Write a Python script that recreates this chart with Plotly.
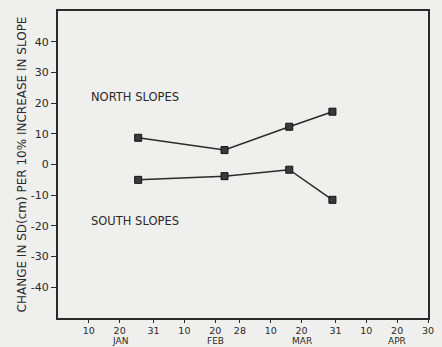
import plotly.graph_objects as go

# Data (day of year; Jan 1 = 1)
sample_days = [26, 54, 75, 89]
north_values = [8.7, 4.7, 12.3, 17.2]
south_values = [-5.0, -3.8, -1.7, -11.5]

x_tick_days = [10, 20, 31, 41, 51, 59, 69, 79, 90, 100, 110, 120]
x_tick_text = ["10", "20", "31", "10", "20", "28", "10", "20", "31", "10", "20", "30"]
month_days = [20, 51, 79, 110]
month_names = ["JAN", "FEB", "MAR", "APR"]
y_ticks = [-40, -30, -20, -10, 0, 10, 20, 30, 40]
y_tick_text = ["-40", "-30", "-20", "-10", "0", "10", "20", "30", "40"]

ink = "#2a2a2a"
bg = "#efefed"
font_family = "DejaVu Sans, Liberation Sans, sans-serif"

fig = go.Figure()
for vals in (north_values, south_values):
    fig.add_trace(go.Scatter(
        x=sample_days, y=vals, mode="lines+markers",
        line=dict(color=ink, width=1.5),
        marker=dict(symbol="square", size=7, color="#3a3a3a",
                    line=dict(color="#111", width=1)),
        showlegend=False, hoverinfo="skip"))

annotations = []
for d, m in zip(month_days, month_names):
    annotations.append(dict(x=d, y=-29 / 307, xref="x", yref="paper",
                            text=m, showarrow=False, yanchor="bottom",
                            borderpad=0,
                            font=dict(size=9, color=ink, family=font_family)))
annotations.append(dict(x=10, y=22, xref="x", yref="y", text="NORTH SLOPES",
                        showarrow=False, xanchor="left", yanchor="middle",
                        font=dict(size=11.5, color=ink, family=font_family)))
annotations.append(dict(x=10, y=-18.5, xref="x", yref="y", text="SOUTH SLOPES",
                        showarrow=False, xanchor="left", yanchor="middle",
                        font=dict(size=11.5, color=ink, family=font_family)))

fig.update_layout(
    width=442, height=347,
    margin=dict(l=58, r=8, t=11, b=29),
    paper_bgcolor=bg, plot_bgcolor=bg,
    font=dict(family=font_family, color=ink, size=11),
    annotations=annotations,
    xaxis=dict(range=[0, 120], tickmode="array", tickvals=x_tick_days,
               ticktext=x_tick_text, ticks="outside", ticklen=3, tickwidth=1.2,
               tickcolor=ink, showline=True, linewidth=2, linecolor=ink,
               mirror=True, showgrid=False, zeroline=False,
               tickfont=dict(size=9.5, color=ink)),
    yaxis=dict(range=[-50, 50], tickmode="array", tickvals=y_ticks,
               ticktext=y_tick_text,
               ticks="outside", ticklen=5, tickwidth=1.2, tickcolor=ink,
               showline=True, linewidth=2, linecolor=ink, mirror=True,
               showgrid=False, zeroline=False,
               tickfont=dict(size=11, color=ink),
               title=dict(text="CHANGE IN SD(cm) PER 10% INCREASE IN SLOPE",
                          font=dict(size=12, color=ink), standoff=2)),
)

fig.write_html("out.html", config={"displayModeBar": False},
               post_script="document.body.style.margin='0';document.body.style.background='" + bg + "';")
